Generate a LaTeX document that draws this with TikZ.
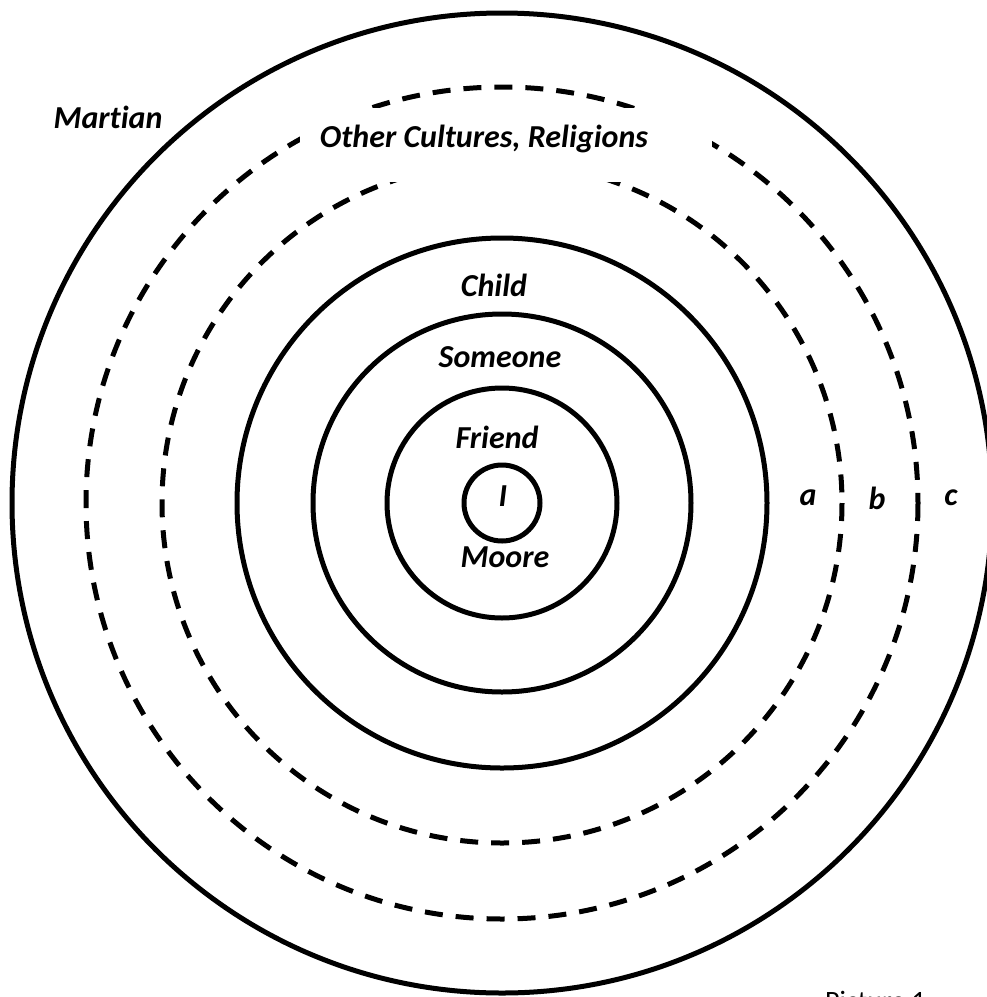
\documentclass[tikz,border=0pt]{standalone}
\usepackage{fontspec}
\setmainfont{Carlito}[Ligatures=NoCommon]
\begin{document}
\begin{tikzpicture}[x=1pt,y=-1pt,
  ring/.style={line width=5pt},
  dring/.style={line width=5pt, dash pattern=on 18pt off 13pt},
  lab/.style={font=\fontsize{32}{38}\selectfont\bfseries\itshape, inner sep=0pt}]
\useasboundingbox (0,0) rectangle (987,997);
\coordinate (c) at (502,503);
\draw[ring] (c) circle (490);
\draw[dring] (c) circle (416);
\draw[dring] (c) circle (340);
\draw[ring] (c) circle (265);
\draw[ring] (c) circle (189);
\draw[ring] (c) circle (115);
\draw[ring] (c) circle (38);
\fill[white] (300,108) rectangle (712,182);
\node[lab] (other) at (484,139) {Other Cultures, Religions};
\node[lab] (martian) at (108,117) {Martian};
\node[lab] (child) at (494,285) {Child};
\node[lab] (someone) at (500,357) {Someone};
\node[lab] (friend) at (497,437) {Friend};
\node[lab] (i) at (503,496) {I};
\node[lab] (moore) at (505,557) {Moore};
\node[lab] (a) at (808,498) {a};
\node[lab] (b) at (877,498) {b};
\node[lab] (cc) at (951,498) {c};
\node[font=\fontsize{28}{34}\selectfont, inner sep=0pt, anchor=base west] (pic) at (825,1010) {Picture 1};
\end{tikzpicture}
\end{document}
